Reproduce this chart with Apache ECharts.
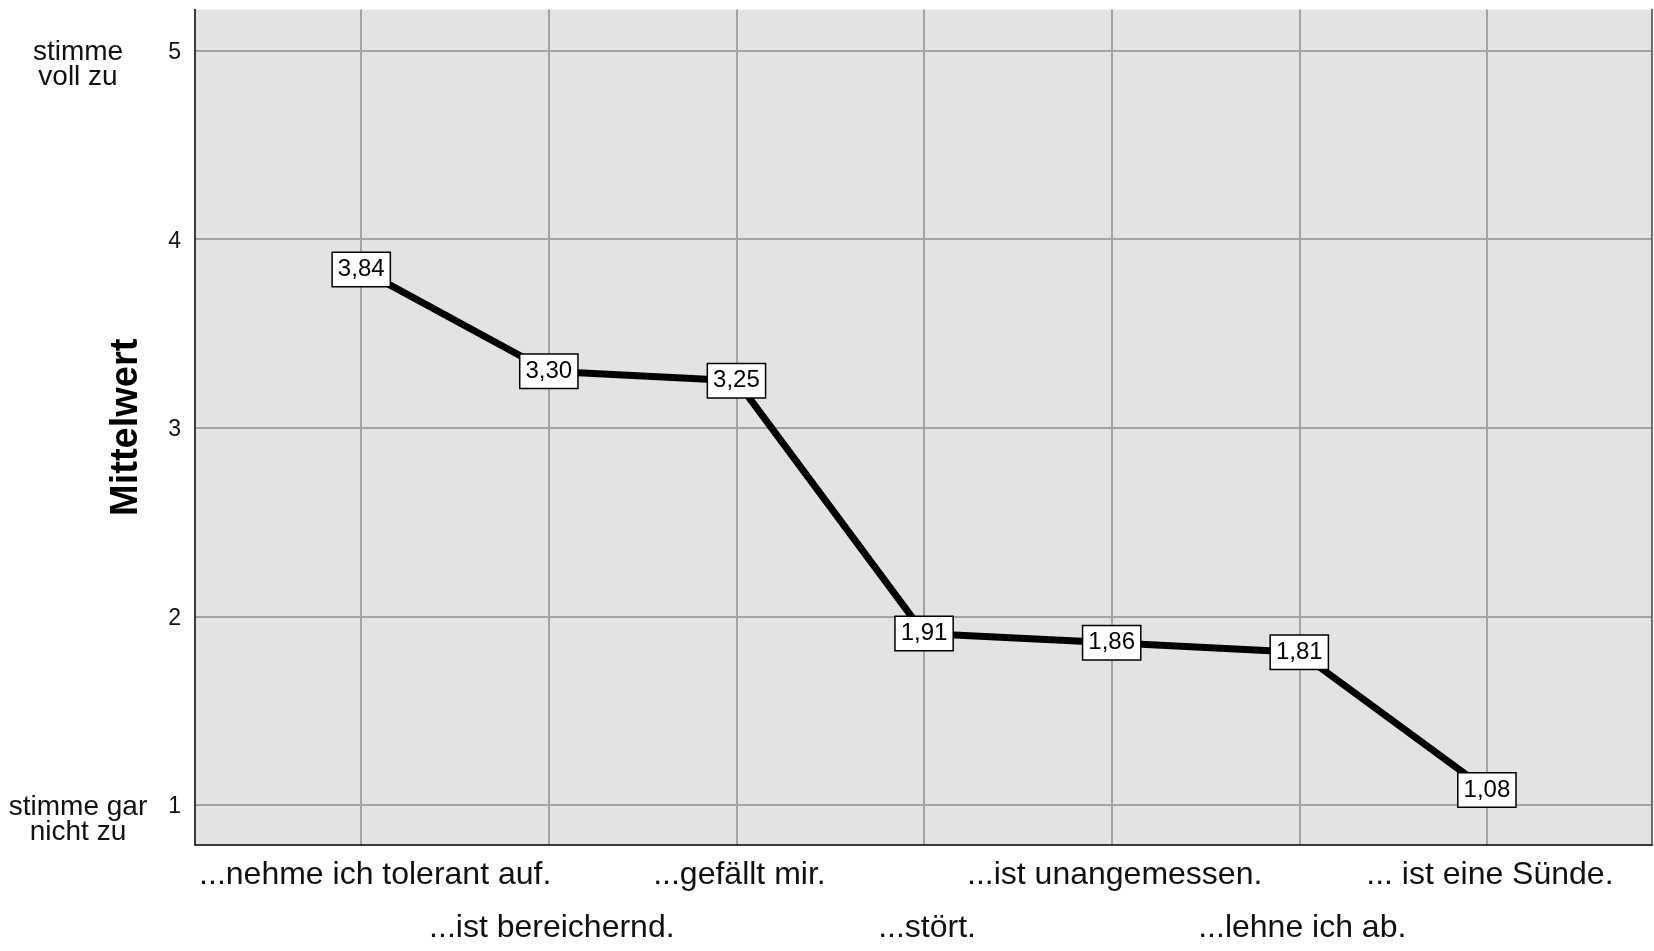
<!DOCTYPE html>
<html>
<head>
<meta charset="utf-8">
<script src="https://cdn.jsdelivr.net/npm/echarts@6/dist/echarts.min.js"></script>
<style>
html,body{margin:0;padding:0;background:#fff;}
#chart{width:1654px;height:951px;}
</style>
</head>
<body>
<div id="chart"></div>
<script>
const categories = ["...nehme ich tolerant auf.", "...ist bereichernd.", "...gefällt mir.", "...stört.", "...ist unangemessen.", "...lehne ich ab.", "... ist eine Sünde."];
const values = [3.84, 3.30, 3.25, 1.91, 1.86, 1.81, 1.08];
const yTickTexts = {1: ["stimme gar", "nicht zu"], 5: ["stimme", "voll zu"]};
const yAxisTitle = "Mittelwert";

const FONT = "'Liberation Sans', Arial, Helvetica, sans-serif";
const GRID_GRAY = '#a3a3a3';
const NONE = 'rgba(0,0,0,0)';
const chart = echarts.init(document.getElementById('chart'), null, {renderer: 'canvas'});

const option = {
  backgroundColor: '#ffffff',
  animation: false,
  grid: {
    left: 195, right: 2, top: 9.5, bottom: 106,
    outerBoundsMode: 'none',
    containLabel: false,
    show: true, backgroundColor: '#e3e3e3', borderWidth: 0
  },
  xAxis: {
    type: 'value',
    min: -0.886, max: 6.88,
    splitNumber: 8,
    axisLine: {show: true, onZero: false, lineStyle: {color: '#000', width: 1.5}},
    axisTick: {show: false},
    splitLine: {show: true, lineStyle: {color: [NONE, GRID_GRAY, GRID_GRAY, GRID_GRAY, GRID_GRAY, GRID_GRAY, GRID_GRAY, GRID_GRAY, NONE], width: 2}},
    axisLabel: {
      margin: 4,
      color: '#111',
      showMinLabel: false, showMaxLabel: false,
      formatter: function (v) {
        const i = Math.round(v);
        if (Math.abs(v - i) > 1e-6 || i < 0 || i >= categories.length) return '';
        const style = i === 0 ? 'f' : 'r';
        return (i % 2 === 1 ? '{r|}\n' : '') + '{' + style + '|' + categories[i] + '}';
      },
      rich: {
        r: {fontFamily: FONT, fontSize: 32, lineHeight: 53, color: '#111', padding: [0, 0, 0, 6]},
        f: {fontFamily: FONT, fontSize: 32, lineHeight: 53, color: '#111', padding: [0, 0, 0, 28]}
      }
    }
  },
  yAxis: [{
    type: 'value',
    min: 0.788, max: 5.218,
    splitNumber: 5,
    name: yAxisTitle,
    nameLocation: 'middle',
    nameRotate: 90,
    nameGap: 49,
    nameMoveOverlap: false,
    nameTextStyle: {fontFamily: FONT, fontSize: 38, fontWeight: 'bold', color: '#000'},
    axisLine: {show: true, onZero: false, lineStyle: {color: '#000', width: 1.5}},
    axisTick: {show: false},
    splitLine: {show: true, lineStyle: {color: [NONE, GRID_GRAY, GRID_GRAY, GRID_GRAY, GRID_GRAY, GRID_GRAY, NONE], width: 2}},
    axisLabel: {
      margin: 14,
      padding: [29, 0, 0, 0],
      showMinLabel: false, showMaxLabel: false,
      formatter: function (v) {
        const i = Math.round(v);
        if (Math.abs(v - i) > 1e-6) return '';
        const t = yTickTexts[i] || ['', ''];
        return '{a|' + t[0] + '}{n|' + i + '}\n{a|' + t[1] + '}{n|}';
      },
      rich: {
        a: {width: 146, align: 'center', fontFamily: FONT, fontSize: 28, lineHeight: 25, color: '#111'},
        n: {width: 30, align: 'right', fontFamily: FONT, fontSize: 23, lineHeight: 25, color: '#111'}
      }
    }
  }, {
    type: 'value',
    position: 'right',
    min: 0.788, max: 5.218,
    axisLine: {show: true, onZero: false, lineStyle: {color: '#444', width: 1.5}},
    axisTick: {show: false},
    axisLabel: {show: false},
    splitLine: {show: false}
  }],
  series: [{
    type: 'line',
    data: values.map((v, i) => [i, v]),
    lineStyle: {color: '#000', width: 7},
    itemStyle: {color: '#000'},
    symbol: 'circle',
    symbolSize: 2,
    label: {
      show: true,
      position: 'inside',
      formatter: p => p.value[1].toFixed(2).replace('.', ','),
      fontFamily: FONT, fontSize: 24, color: '#000',
      backgroundColor: '#fff', borderColor: '#000', borderWidth: 1.5,
      padding: [5, 5, 4, 5]
    }
  }]
};
chart.setOption(option);
</script>
</body>
</html>
